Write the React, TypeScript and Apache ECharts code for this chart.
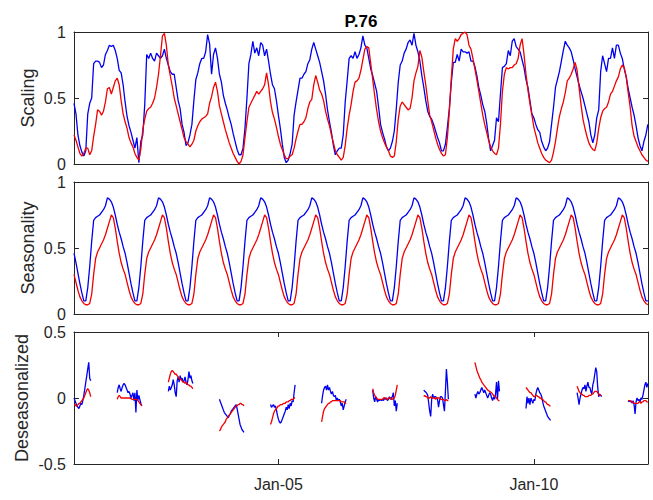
import React, { useEffect, useRef } from "react";
import * as echarts from "echarts";

const START_YEAR = 2001;
const END_YEAR = 2012.234;
const STEPS_PER_YEAR = 26;
const WEEKS_PER_YEAR = 52;

// Scaling (top panel), one row per calendar year, biweekly values
const scalingBlue: number[][] = [
  [0.46,0.38,0.22,0.14,0.09,0.06,0.1,0.38,0.46,0.5,0.76,0.78,0.78,0.77,0.73,0.75,0.83,0.86,0.9,0.89,0.9,0.86,0.8,0.71,0.69,0.6],
  [0.47,0.36,0.29,0.24,0.18,0.12,0.2,0.01,0.17,0.22,0.45,0.83,0.8,0.84,0.8,0.78,0.84,0.82,0.8,0.82,0.87,0.8,0.75,0.7,0.68,0.68],
  [0.58,0.48,0.42,0.3,0.24,0.14,0.16,0.22,0.3,0.48,0.64,0.69,0.76,0.8,0.8,0.85,0.98,0.91,0.68,0.83,0.88,0.8,0.68,0.62,0.52,0.46],
  [0.41,0.35,0.3,0.23,0.17,0.11,0.07,0.07,0.12,0.27,0.5,0.76,0.83,0.93,0.84,0.88,0.82,0.92,0.9,0.82,0.87,0.78,0.68,0.6,0.57,0.48],
  [0.37,0.27,0.15,0.05,0.01,0.03,0.08,0.15,0.37,0.47,0.56,0.65,0.65,0.68,0.7,0.76,0.79,0.87,0.92,0.87,0.82,0.77,0.7,0.63,0.53,0.41],
  [0.32,0.24,0.14,0.07,0.1,0.12,0.12,0.22,0.47,0.63,0.8,0.82,0.8,0.85,0.8,0.83,0.88,0.97,0.9,0.88,0.8,0.72,0.67,0.61,0.55,0.43],
  [0.3,0.24,0.19,0.13,0.1,0.12,0.17,0.25,0.42,0.62,0.75,0.78,0.84,0.87,0.92,0.94,0.9,0.99,0.9,0.85,0.78,0.67,0.58,0.48,0.4,0.36],
  [0.34,0.3,0.25,0.2,0.16,0.1,0.1,0.15,0.28,0.42,0.62,0.77,0.77,0.83,0.78,0.87,0.85,0.85,0.84,0.85,0.78,0.78,0.74,0.67,0.58,0.52],
  [0.45,0.4,0.31,0.19,0.1,0.14,0.18,0.35,0.32,0.53,0.73,0.74,0.76,0.86,0.82,0.93,0.95,0.89,0.87,0.85,0.79,0.73,0.64,0.58,0.48,0.38],
  [0.35,0.3,0.26,0.24,0.17,0.13,0.1,0.12,0.17,0.3,0.43,0.58,0.64,0.7,0.78,0.86,0.93,0.9,0.88,0.85,0.79,0.72,0.66,0.6,0.55,0.5],
  [0.44,0.38,0.32,0.22,0.16,0.22,0.35,0.41,0.7,0.82,0.76,0.7,0.8,0.8,0.88,0.8,0.9,0.9,0.84,0.8,0.72,0.66,0.57,0.5,0.43,0.37],
  [0.29,0.2,0.14,0.1,0.17,0.22,0.3],
];

const scalingRed: number[][] = [
  [0.22,0.18,0.13,0.08,0.06,0.08,0.12,0.12,0.07,0.1,0.21,0.3,0.41,0.4,0.37,0.4,0.47,0.57,0.58,0.53,0.58,0.63,0.65,0.6,0.48,0.38],
  [0.32,0.27,0.2,0.16,0.13,0.08,0.05,0.03,0.11,0.26,0.34,0.4,0.42,0.43,0.46,0.5,0.58,0.68,0.82,0.97,0.99,0.9,0.75,0.67,0.59,0.5],
  [0.44,0.38,0.32,0.26,0.2,0.17,0.15,0.13,0.15,0.18,0.25,0.29,0.32,0.34,0.35,0.36,0.38,0.46,0.51,0.58,0.62,0.55,0.44,0.38,0.32,0.26],
  [0.21,0.16,0.12,0.08,0.05,0.02,0.0,0.02,0.07,0.2,0.32,0.43,0.46,0.49,0.52,0.55,0.53,0.55,0.57,0.6,0.69,0.6,0.47,0.39,0.34,0.28],
  [0.21,0.15,0.11,0.07,0.04,0.04,0.06,0.07,0.12,0.19,0.25,0.3,0.3,0.32,0.35,0.42,0.47,0.49,0.6,0.67,0.62,0.56,0.53,0.48,0.4,0.34],
  [0.29,0.22,0.16,0.1,0.07,0.05,0.03,0.05,0.14,0.27,0.37,0.45,0.55,0.62,0.63,0.65,0.71,0.79,0.87,0.89,0.88,0.76,0.64,0.52,0.41,0.32],
  [0.25,0.2,0.16,0.13,0.1,0.06,0.05,0.06,0.17,0.34,0.44,0.47,0.45,0.43,0.41,0.42,0.5,0.63,0.69,0.74,0.86,0.81,0.7,0.6,0.48,0.37],
  [0.32,0.26,0.2,0.15,0.11,0.08,0.06,0.07,0.2,0.4,0.65,0.87,0.95,0.93,0.95,0.98,0.99,1.0,0.98,0.9,0.87,0.8,0.72,0.64,0.55,0.46],
  [0.37,0.3,0.24,0.18,0.13,0.1,0.08,0.07,0.12,0.3,0.55,0.68,0.73,0.72,0.73,0.73,0.75,0.76,0.8,0.9,0.95,0.83,0.68,0.56,0.46,0.37],
  [0.28,0.22,0.16,0.12,0.08,0.05,0.03,0.02,0.01,0.03,0.09,0.17,0.27,0.36,0.42,0.47,0.54,0.63,0.65,0.68,0.72,0.77,0.71,0.58,0.45,0.34],
  [0.27,0.21,0.16,0.13,0.11,0.1,0.16,0.27,0.35,0.4,0.42,0.43,0.47,0.53,0.55,0.59,0.63,0.66,0.72,0.75,0.73,0.66,0.54,0.43,0.29,0.21],
  [0.17,0.13,0.1,0.07,0.05,0.03,0.02],
];

// Seasonality (middle panel): the same yearly profile every year, biweekly
const seasonalityBlueProfile = [0.46,0.39,0.31,0.23,0.16,0.1,0.1,0.2,0.36,0.55,0.71,0.73,0.74,0.75,0.77,0.79,0.82,0.88,0.87,0.85,0.81,0.75,0.68,0.62,0.57,0.51];
const seasonalityRedProfile = [0.3,0.24,0.18,0.13,0.1,0.08,0.07,0.07,0.08,0.15,0.3,0.42,0.47,0.5,0.53,0.56,0.6,0.65,0.7,0.75,0.73,0.65,0.55,0.46,0.39,0.34];

// Deseasonalized (bottom panel): winter segments, weekly values
const deseasStartWeek = [0, 44, 96, 148, 200, 252, 304, 356, 408, 460, 512, 564];
const deseasBlue: number[][] = [
  [0.0,-0.02,-0.04,-0.06,-0.07,-0.08,-0.06,-0.04,-0.05,-0.02,0.02,0.07,0.12,0.17,0.22,0.27,0.15,0.13],
  [0.04,0.08,0.1,0.07,0.05,0.08,0.1,0.11,0.1,0.08,0.06,0.04,0.05,0.03,0.0,0.02,0.04,-0.02,0.04,-0.11,0.06,-0.02,0.02,-0.01,-0.04,-0.06],
  [0.05,0.09,0.06,0.08,0.1,0.14,0.1,0.04,0.01,0.13,0.16,0.12,0.17,0.14,0.15,0.12,0.13,0.16,0.12,0.1,0.14,0.2,0.15,0.17,0.13,0.11],
  [-0.01,-0.03,-0.05,-0.07,-0.09,-0.11,-0.12,-0.13,-0.14,-0.15,-0.13,-0.12,-0.1,-0.09,-0.08,-0.07,-0.06,-0.05,-0.08,-0.12,-0.16,-0.2,-0.22,-0.24,-0.25,-0.26],
  [-0.05,-0.07,-0.06,-0.05,-0.07,-0.06,-0.09,-0.13,-0.16,-0.18,-0.19,-0.18,-0.16,-0.14,-0.12,-0.1,-0.07,-0.09,-0.05,-0.08,-0.04,-0.06,-0.02,-0.03,0.04,0.1],
  [-0.04,0.02,0.06,0.08,0.09,0.06,0.1,0.06,0.08,0.05,0.03,0.05,0.02,0.01,0.02,-0.02,0.0,-0.02,-0.01,-0.03,-0.06,-0.04,-0.09,-0.06,-0.03,-0.01],
  [0.06,0.0,-0.03,0.01,-0.01,-0.03,-0.01,-0.02,-0.01,-0.02,-0.01,-0.02,0.0,-0.01,0.0,-0.02,-0.01,0.01,-0.01,0.0,0.01,0.04,-0.06,-0.02,-0.1,-0.04],
  [0.06,0.05,0.045,0.035,0.02,-0.04,-0.1,-0.14,-0.01,0.03,0.0,0.01,0.01,0.0,-0.01,-0.07,-0.02,0.01,0.01,0.0,-0.05,-0.1,0.05,0.22,0.12,-0.01],
  [0.03,0.0,0.03,0.05,0.03,0.04,0.06,0.08,0.06,0.04,0.06,0.04,0.02,0.0,0.02,0.04,0.03,0.0,-0.02,0.01,-0.01,0.03,0.12,-0.01,0.13,0.05],
  [-0.08,0.01,-0.04,0.0,-0.05,0.0,-0.02,-0.04,-0.01,-0.02,0.03,0.06,0.08,0.06,0.04,0.03,0.01,-0.03,-0.06,-0.08,-0.1,-0.12,-0.14,-0.15,-0.16,-0.17],
  [0.04,0.0,-0.05,0.0,0.03,0.06,0.08,0.07,0.1,0.05,0.09,0.12,0.08,0.08,0.05,0.03,0.1,0.13,0.18,0.23,0.2,0.08,0.01,0.03,0.02,0.01],
  [-0.03,-0.02,-0.03,-0.02,-0.04,-0.02,-0.05,-0.12,-0.03,0.0,-0.02,-0.01,-0.03,0.0,-0.01,0.02,0.06,0.1,0.12,0.08,0.11],
];
const deseasRed: number[][] = [
  [-0.05,-0.05,-0.06,-0.06,-0.05,-0.04,-0.04,-0.03,-0.02,-0.01,0.0,0.02,0.04,0.06,0.07,0.06,0.04,0.01],
  [-0.01,0.01,0.02,0.01,0.0,0.0,0.0,0.0,0.0,0.0,0.0,0.0,0.0,0.0,-0.005,-0.01,-0.01,-0.01,-0.01,-0.01,-0.01,-0.02,-0.03,-0.04,-0.05,-0.06],
  [0.12,0.15,0.18,0.2,0.21,0.2,0.19,0.18,0.18,0.17,0.16,0.15,0.14,0.14,0.13,0.12,0.12,0.11,0.12,0.11,0.1,0.1,0.09,0.09,0.08,0.07],
  [-0.25,-0.24,-0.22,-0.21,-0.2,-0.19,-0.18,-0.16,-0.15,-0.14,-0.13,-0.12,-0.11,-0.1,-0.09,-0.08,-0.07,-0.06,-0.06,-0.05,-0.05,-0.04,-0.04,-0.05,-0.05,-0.06],
  [-0.2,-0.18,-0.15,-0.12,-0.1,-0.09,-0.08,-0.07,-0.06,-0.06,-0.05,-0.05,-0.05,-0.04,-0.04,-0.04,-0.03,-0.03,-0.03,-0.02,-0.02,-0.01,-0.01,-0.01,0.0,0.0],
  [-0.18,-0.14,-0.1,-0.08,-0.07,-0.06,-0.05,-0.04,-0.04,-0.03,-0.03,-0.02,-0.02,-0.02,-0.02,-0.02,-0.02,-0.02,-0.02,-0.02,-0.03,-0.03,-0.03,-0.03,-0.04,-0.04],
  [0.07,0.04,0.02,0.01,0.0,-0.01,-0.01,-0.01,-0.01,-0.01,-0.01,0.0,0.0,0.0,-0.01,-0.01,0.0,0.0,0.0,-0.01,-0.01,0.0,0.0,0.02,0.06,0.1],
  [0.01,0.02,0.01,0.01,0.0,0.0,0.0,0.01,0.0,0.0,0.0,0.0,-0.01,0.0,0.0,0.0,0.0,-0.01,-0.01,-0.01,-0.01,-0.02,-0.02,-0.01,-0.02,-0.02],
  [0.27,0.24,0.21,0.19,0.17,0.15,0.14,0.12,0.11,0.1,0.09,0.08,0.07,0.06,0.055,0.05,0.045,0.04,0.03,0.02,0.015,0.01,0.0,-0.01,-0.02,-0.02],
  [0.08,0.07,0.06,0.05,0.04,0.04,0.03,0.02,0.01,0.01,0.02,0.02,0.01,0.01,0.0,0.0,-0.01,-0.01,-0.02,-0.03,-0.03,-0.04,-0.05,-0.05,-0.06,-0.06],
  [0.09,0.07,0.05,0.04,0.03,0.03,0.02,0.02,0.01,0.01,0.01,0.01,0.02,0.02,0.02,0.03,0.03,0.04,0.05,0.05,0.05,0.04,0.03,0.02,0.02,0.02],
  [-0.02,-0.02,-0.02,-0.03,-0.03,-0.03,-0.04,-0.04,-0.04,-0.04,-0.04,-0.03,-0.03,-0.04,-0.03,-0.03,-0.02,-0.02,-0.02,-0.03,-0.03],
];

const chartTitle = "P.76";
const panelNames = ["Scaling", "Seasonality", "Deseasonalized"];
const yRanges = [[0, 1], [0, 1], [-0.5, 0.5]];
const yTickStep = 0.5;
const xTickYears = [2005, 2010];
const xTickLabels = ["Jan-05", "Jan-10"];

const FONT = "'Liberation Sans', Arial, Helvetica, sans-serif";
const AXIS_COLOR = "#262626";
const BLUE = "#0000f0";
const RED = "#f00000";

const GRID_LEFT = 74;
const GRID_WIDTH = 574;
const GRID_HEIGHT = 132;
const GRID_TOPS = [32, 182, 332];

function yearRowsToPoints(rows: number[][]) {
  const pts: (number | null)[][] = [];
  rows.forEach((row, y) =>
    row.forEach((v, k) => pts.push([START_YEAR + y + k / STEPS_PER_YEAR, v]))
  );
  return pts;
}

function profileToPoints(profile: number[]) {
  const pts: (number | null)[][] = [];
  scalingBlue.forEach((row, y) =>
    row.forEach((_, k) => pts.push([START_YEAR + y + k / STEPS_PER_YEAR, profile[k]]))
  );
  return pts;
}

function segmentsToPoints(segs: number[][]) {
  const pts: (number | null)[][] = [];
  segs.forEach((seg, si) => {
    seg.forEach((v, j) =>
      pts.push([START_YEAR + (deseasStartWeek[si] + j) / WEEKS_PER_YEAR, v])
    );
    pts.push([START_YEAR + (deseasStartWeek[si] + seg.length) / WEEKS_PER_YEAR, null]);
  });
  return pts;
}

function lineSeries(name: string, idx: number, color: string, data: any[]) {
  return {
    name,
    type: "line",
    xAxisIndex: idx,
    yAxisIndex: idx,
    data,
    showSymbol: false,
    symbol: "none",
    connectNulls: false,
    lineStyle: { color, width: 1.3 },
    itemStyle: { color },
    emphasis: { disabled: true },
  };
}

export default function App() {
  const ref = useRef<HTMLDivElement>(null);

  useEffect(() => {
    if (!ref.current) return;
    const chart = echarts.init(ref.current, undefined, { renderer: "svg" });

    const grids = GRID_TOPS.map((top) => ({
      left: GRID_LEFT,
      top,
      width: GRID_WIDTH,
      height: GRID_HEIGHT,
      containLabel: false,
    }));

    const xAxes: any[] = [];
    ["bottom", "top"].forEach((position) => {
      GRID_TOPS.forEach((_, i) => {
        const isBottomPanel = i === 2;
        xAxes.push({
          type: "value",
          gridIndex: i,
          position,
          min: START_YEAR,
          max: END_YEAR,
          axisLine: { show: true, onZero: false, lineStyle: { color: AXIS_COLOR, width: 1 } },
          axisTick: {
            show: isBottomPanel,
            inside: true,
            length: 5,
            customValues: xTickYears,
            lineStyle: { color: AXIS_COLOR, width: 1 },
          },
          axisLabel: {
            show: isBottomPanel && position === "bottom",
            customValues: xTickYears,
            formatter: (v: number) => {
              const idx = xTickYears.indexOf(Math.round(v));
              return idx >= 0 ? xTickLabels[idx] : "";
            },
            fontSize: 16,
            fontFamily: FONT,
            color: AXIS_COLOR,
            margin: 12,
          },
          splitLine: { show: false },
        });
      });
    });

    const yAxes: any[] = [];
    ["left", "right"].forEach((position) => {
      GRID_TOPS.forEach((_, i) => {
        yAxes.push({
          type: "value",
          gridIndex: i,
          position,
          min: yRanges[i][0],
          max: yRanges[i][1],
          interval: yTickStep,
          axisLine: { show: true, onZero: false, lineStyle: { color: AXIS_COLOR, width: 1 } },
          axisTick: { show: true, inside: true, length: 5, lineStyle: { color: AXIS_COLOR, width: 1 } },
          axisLabel: {
            show: position === "left",
            fontSize: 16,
            fontFamily: FONT,
            color: AXIS_COLOR,
            margin: 8,
          },
          splitLine: { show: false },
        });
      });
    });

    const nameCenters = [
      [28, 98],
      [28, 248],
      [22, 398],
    ];

    const graphics: any[] = [
      {
        type: "text",
        x: GRID_LEFT + GRID_WIDTH / 2,
        y: 21,
        style: {
          text: chartTitle,
          fontSize: 17,
          fontWeight: "bold",
          fontFamily: FONT,
          fill: "#000000",
          align: "center",
          verticalAlign: "middle",
        },
      },
      ...panelNames.map((name, i) => ({
        type: "text",
        x: nameCenters[i][0],
        y: nameCenters[i][1],
        rotation: Math.PI / 2,
        style: {
          text: name,
          fontSize: 18,
          fontFamily: FONT,
          fill: AXIS_COLOR,
          align: "center",
          verticalAlign: "middle",
        },
      })),
    ];

    chart.setOption({
      animation: false,
      backgroundColor: "#ffffff",
      grid: grids,
      xAxis: xAxes,
      yAxis: yAxes,
      graphic: graphics,
      series: [
        lineSeries("Scaling blue", 0, BLUE, yearRowsToPoints(scalingBlue)),
        lineSeries("Scaling red", 0, RED, yearRowsToPoints(scalingRed)),
        lineSeries("Seasonality blue", 1, BLUE, profileToPoints(seasonalityBlueProfile)),
        lineSeries("Seasonality red", 1, RED, profileToPoints(seasonalityRedProfile)),
        lineSeries("Deseasonalized blue", 2, BLUE, segmentsToPoints(deseasBlue)),
        lineSeries("Deseasonalized red", 2, RED, segmentsToPoints(deseasRed)),
      ],
    });

    return () => chart.dispose();
  }, []);

  return (
    <div
      ref={ref}
      style={{ position: "fixed", left: 0, top: 0, width: 653, height: 500, background: "#fff" }}
    />
  );
}
